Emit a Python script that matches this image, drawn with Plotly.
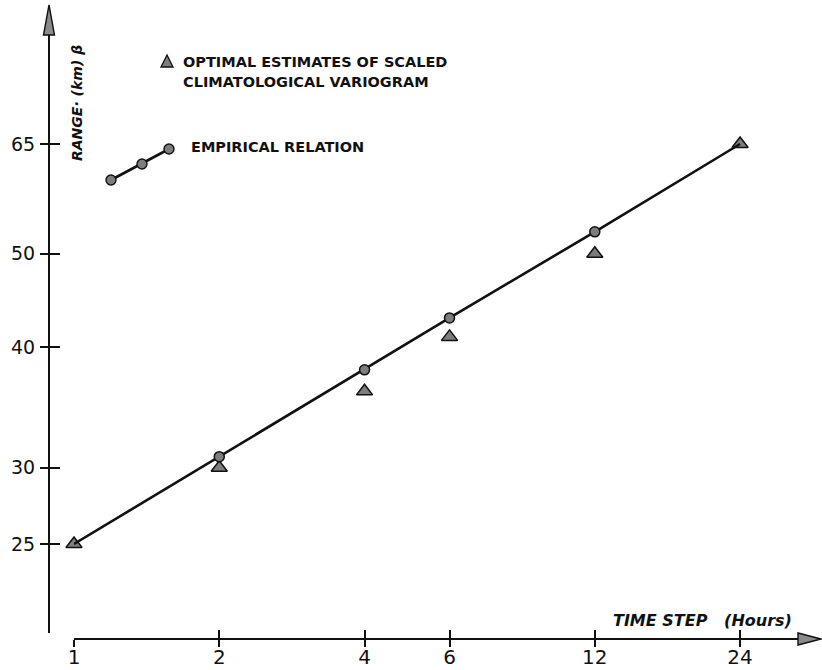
import math
import plotly.graph_objects as go

# ---- data -------------------------------------------------------------
time_steps = [1, 2, 4, 6, 12, 24]                 # hours
optimal_range = [25, 30, 36, 41, 50, 65]           # optimal estimates, scaled variogram
empirical_range = [25, 30.8, 37.9, 42.9, 52.7, 65] # empirical relation
x_tick_vals = [1, 2, 4, 6, 12, 24]
x_tick_text = ["1", "2", "4", "6", "12", "24"]
y_tick_vals = [25, 30, 40, 50, 65]
y_tick_text = ["25", "30", "40", "50", "65"]

# ---- page geometry (pixels) -------------------------------------------
W, H = 822, 670


def fx(px):
    return px / W


def fy(py):
    return (H - py) / H


X_LEFT, X_RIGHT = 74, 800     # x axis line extent
X_LINE_Y = 639                # x axis vertical position
Y_BOTTOM, Y_TOP = 633, 35     # y axis line extent
Y_LINE_X = 49                 # y axis horizontal position

# log-log ranges
x_range = [0.0, 1.5044]
y_range = [1.30561, 1.92599]

FILL = "#7d7d7d"
INK = "#111111"
TICK_FONT = dict(family="DejaVu Sans", color=INK)
LABEL_FONT = "DejaVu Sans"

fig = go.Figure()

# triangles: optimal estimates
fig.add_trace(go.Scatter(
    x=time_steps, y=optimal_range, mode="markers",
    marker=dict(symbol="triangle-up", size=14, color=FILL,
                line=dict(color=INK, width=1.5)),
    cliponaxis=False, showlegend=False, xaxis="x", yaxis="y",
))

# empirical relation line
fig.add_trace(go.Scatter(
    x=time_steps, y=empirical_range, mode="lines",
    line=dict(color=INK, width=2.6),
    cliponaxis=False, showlegend=False, xaxis="x2", yaxis="y2",
))

# empirical relation points (interior time steps)
fig.add_trace(go.Scatter(
    x=time_steps[1:-1], y=empirical_range[1:-1], mode="markers",
    marker=dict(symbol="circle", size=10, color=FILL,
                line=dict(color=INK, width=1.5)),
    cliponaxis=False, showlegend=False, xaxis="x2", yaxis="y2",
))

common_x = dict(type="log", range=x_range, domain=[fx(X_LEFT), fx(X_RIGHT)],
                anchor="free", position=fy(X_LINE_Y), showgrid=False,
                zeroline=False, tickvals=x_tick_vals, ticktext=x_tick_text,
                tickwidth=1.6, tickcolor=INK)
common_y = dict(type="log", range=y_range, domain=[fy(Y_BOTTOM), fy(Y_TOP)],
                anchor="free", position=fx(Y_LINE_X), showgrid=False,
                zeroline=False, tickvals=y_tick_vals, ticktext=y_tick_text,
                tickwidth=1.6, tickcolor=INK)

# The labelled axes carry the inner half of each tick (so labels sit
# close to the axis line); the overlay axes carry the outer half.
fig.update_layout(
    width=W, height=H,
    margin=dict(l=0, r=0, t=0, b=0, autoexpand=False),
    paper_bgcolor="white", plot_bgcolor="white",
    showlegend=False,
    xaxis=dict(**common_x, showline=True, linecolor=INK, linewidth=2,
               ticks="inside", ticklen=8, ticklabelstandoff=0,
               tickfont=dict(size=20, **TICK_FONT)),
    yaxis=dict(**common_y, showline=True, linecolor=INK, linewidth=2,
               ticks="inside", ticklen=10, ticklabelstandoff=9,
               tickfont=dict(size=19, **TICK_FONT)),
    xaxis2=dict(**common_x, overlaying="x", showline=False, ticks="outside",
                ticklen=7, showticklabels=False),
    yaxis2=dict(**common_y, overlaying="y", showline=False, ticks="outside",
                ticklen=9, showticklabels=False),
)

# ---- axis arrowheads --------------------------------------------------
def tri_path(pts):
    return "M " + " L ".join(f"{fx(a):.5f},{fy(b):.5f}" for a, b in pts) + " Z"


arrow_style = dict(type="path", xref="paper", yref="paper",
                   fillcolor="#8a8a8a", line=dict(color=INK, width=1.4))
fig.add_shape(path=tri_path([(Y_LINE_X, 5), (Y_LINE_X - 5.5, Y_TOP),
                             (Y_LINE_X + 5.5, Y_TOP)]), **arrow_style)
fig.add_shape(path=tri_path([(821, X_LINE_Y), (X_RIGHT - 2, X_LINE_Y - 6),
                             (X_RIGHT - 2, X_LINE_Y + 6)]), **arrow_style)

# ---- axis titles ------------------------------------------------------
fig.add_annotation(
    text="RANGE· (km) β", x=fx(77), y=fy(103), xref="paper", yref="paper",
    showarrow=False, textangle=-90, xanchor="center", yanchor="middle",
    font=dict(family=LABEL_FONT, size=14, color=INK, weight="bold",
              style="italic"),
)
fig.add_annotation(
    text="TIME STEP   (Hours)", x=fx(702), y=fy(620), xref="paper",
    yref="paper", showarrow=False, xanchor="center", yanchor="middle",
    font=dict(family=LABEL_FONT, size=16, color=INK, weight="bold",
              style="italic"),
)

# ---- key --------------------------------------------------------------
key_font = dict(family=LABEL_FONT, size=14.5, color=INK, weight="bold")
fig.add_shape(path=tri_path([(167, 55), (161, 67), (173, 67)]),
              type="path", xref="paper", yref="paper", fillcolor=FILL,
              line=dict(color=INK, width=1.3))
for txt, py in [("OPTIMAL ESTIMATES OF SCALED", 62),
                ("CLIMATOLOGICAL VARIOGRAM", 82)]:
    fig.add_annotation(text=txt, x=fx(181), y=fy(py), xref="paper",
                       yref="paper", showarrow=False, xanchor="left",
                       yanchor="middle", font=key_font)

key_pts = [(111, 180), (142, 164), (169, 149)]
fig.add_shape(type="line", xref="paper", yref="paper",
              x0=fx(key_pts[0][0]), y0=fy(key_pts[0][1]),
              x1=fx(key_pts[-1][0]), y1=fy(key_pts[-1][1]),
              line=dict(color=INK, width=2.6))
for cx, cy in key_pts:
    fig.add_shape(type="circle", xref="paper", yref="paper",
                  x0=fx(cx - 5), x1=fx(cx + 5), y0=fy(cy + 5), y1=fy(cy - 5),
                  fillcolor=FILL, line=dict(color=INK, width=1.4))
fig.add_annotation(text="EMPIRICAL RELATION", x=fx(189), y=fy(147),
                   xref="paper", yref="paper", showarrow=False,
                   xanchor="left", yanchor="middle", font=key_font)

fig.write_html("out.html")
